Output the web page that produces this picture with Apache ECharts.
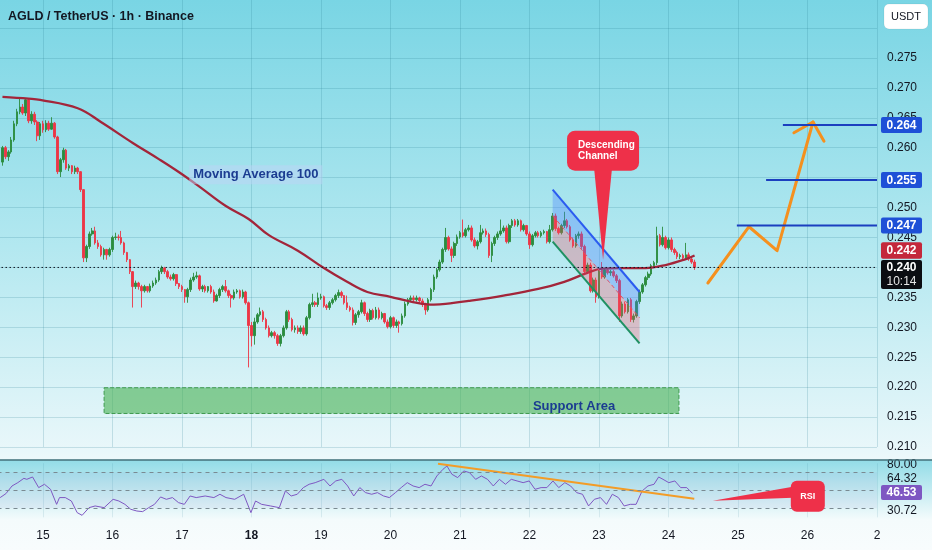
<!DOCTYPE html>
<html><head><meta charset="utf-8">
<script src="https://cdn.jsdelivr.net/npm/echarts@6/dist/echarts.min.js"></script>
<style>html,body{margin:0;padding:0;width:932px;height:550px;overflow:hidden}#c{width:932px;height:550px}</style>
</head><body><div id="c"></div>
<script>
// ---------- DATA ----------
const chartTitle = 'AGLD / TetherUS · 1h · Binance';
const unitLabel = 'USDT';
const dayLabels = ['14','15','16','17','18','19','20','21','22','23','24','25','26','2'];
const boldDays = ['18'];
const firstHour = 10;          // first candle: 14 Mar 10:00 (hours since 14 Mar 00:00)
const firstOpen = 0.2576;
const closes = [
0.2600,0.2585,0.2593,0.2613,0.2640,0.2660,0.2668,0.2658,0.2680,0.2645,
0.2656,0.2643,0.2620,0.2640,0.2630,0.2641,0.2631,0.2641,0.2618,0.2560,
0.2580,0.2596,0.2566,0.2570,0.2560,0.2566,0.2560,0.2530,0.2416,0.2435,
0.2456,0.2461,0.2441,0.2435,0.2421,0.2430,0.2421,0.2430,0.2450,0.2451,
0.2450,0.2441,0.2425,0.2413,0.2393,0.2368,0.2374,0.2368,0.2361,0.2368,
0.2361,0.2369,0.2374,0.2379,0.2393,0.2399,0.2393,0.2384,0.2381,0.2388,
0.2373,0.2368,0.2363,0.2351,0.2363,0.2379,0.2384,0.2386,0.2364,0.2368,
0.2361,0.2368,0.2359,0.2344,0.2353,0.2363,0.2368,0.2361,0.2353,0.2349,
0.2359,0.2361,0.2351,0.2359,0.2341,0.2303,0.2286,0.2309,0.2321,0.2326,
0.2313,0.2299,0.2286,0.2291,0.2286,0.2273,0.2286,0.2299,0.2326,0.2313,
0.2296,0.2299,0.2293,0.2299,0.2289,0.2316,0.2338,0.2341,0.2338,0.2349,
0.2351,0.2336,0.2333,0.2341,0.2346,0.2353,0.2358,0.2353,0.2341,0.2333,
0.2329,0.2308,0.2321,0.2326,0.2341,0.2323,0.2313,0.2328,0.2316,0.2329,
0.2316,0.2323,0.2309,0.2301,0.2316,0.2303,0.2309,0.2306,0.2319,0.2339,
0.2346,0.2349,0.2346,0.2349,0.2344,0.2338,0.2329,0.2346,0.2363,0.2384,
0.2396,0.2409,0.2430,0.2450,0.2431,0.2420,0.2440,0.2451,0.2458,0.2453,
0.2463,0.2466,0.2446,0.2436,0.2443,0.2458,0.2461,0.2455,0.2420,0.2440,
0.2450,0.2456,0.2461,0.2466,0.2443,0.2470,0.2478,0.2471,0.2478,0.2463,
0.2470,0.2456,0.2438,0.2453,0.2458,0.2453,0.2458,0.2460,0.2443,0.2463,
0.2486,0.2465,0.2458,0.2470,0.2478,0.2468,0.2446,0.2436,0.2453,0.2456,
0.2435,0.2393,0.2404,0.2361,0.2379,0.2351,0.2396,0.2384,0.2396,0.2391,
0.2393,0.2386,0.2378,0.2319,0.2339,0.2326,0.2346,0.2313,0.2319,0.2343,
0.2359,0.2371,0.2383,0.2389,0.2403,0.2408,0.2453,0.2438,0.2450,0.2433,
0.2446,0.2430,0.2425,0.2418,0.2420,0.2416,0.2421,0.2414,0.2409,0.2400];
const highs = [
0.2603,0.2603,0.2596,0.2618,0.2645,0.2665,0.2682,0.2673,0.2683,0.2682,
0.2661,0.2660,0.2646,0.2643,0.2645,0.2646,0.2645,0.2651,0.2643,0.2620,
0.2583,0.2600,0.2598,0.2573,0.2571,0.2570,0.2568,0.2561,0.2531,0.2438,
0.2460,0.2466,0.2468,0.2446,0.2438,0.2433,0.2431,0.2433,0.2453,0.2458,
0.2455,0.2461,0.2443,0.2426,0.2414,0.2394,0.2378,0.2376,0.2371,0.2371,
0.2369,0.2373,0.2378,0.2383,0.2396,0.2403,0.2401,0.2396,0.2388,0.2391,
0.2389,0.2374,0.2371,0.2364,0.2366,0.2383,0.2391,0.2393,0.2388,0.2371,
0.2371,0.2369,0.2371,0.2363,0.2356,0.2366,0.2371,0.2379,0.2363,0.2356,
0.2363,0.2364,0.2363,0.2363,0.2361,0.2343,0.2309,0.2316,0.2324,0.2333,
0.2329,0.2316,0.2303,0.2294,0.2294,0.2289,0.2289,0.2303,0.2329,0.2329,
0.2316,0.2303,0.2303,0.2303,0.2303,0.2319,0.2341,0.2356,0.2344,0.2358,
0.2356,0.2353,0.2339,0.2344,0.2349,0.2356,0.2363,0.2361,0.2354,0.2353,
0.2336,0.2333,0.2324,0.2329,0.2346,0.2343,0.2326,0.2331,0.2331,0.2334,
0.2333,0.2326,0.2324,0.2313,0.2319,0.2318,0.2313,0.2311,0.2323,0.2343,
0.2349,0.2353,0.2353,0.2353,0.2351,0.2348,0.2341,0.2349,0.2366,0.2388,
0.2399,0.2413,0.2433,0.2466,0.2453,0.2435,0.2443,0.2455,0.2461,0.2480,
0.2466,0.2471,0.2470,0.2450,0.2446,0.2471,0.2465,0.2465,0.2458,0.2443,
0.2453,0.2460,0.2480,0.2470,0.2470,0.2473,0.2481,0.2481,0.2481,0.2480,
0.2473,0.2471,0.2460,0.2456,0.2461,0.2461,0.2461,0.2463,0.2461,0.2471,
0.2491,0.2490,0.2468,0.2473,0.2493,0.2481,0.2471,0.2450,0.2456,0.2460,
0.2460,0.2438,0.2408,0.2408,0.2383,0.2383,0.2399,0.2409,0.2399,0.2399,
0.2396,0.2396,0.2389,0.2381,0.2343,0.2343,0.2349,0.2349,0.2323,0.2346,
0.2363,0.2374,0.2386,0.2393,0.2406,0.2411,0.2468,0.2456,0.2468,0.2453,
0.2450,0.2450,0.2433,0.2428,0.2423,0.2423,0.2441,0.2425,0.2418,0.2413];
const lows = [
0.2570,0.2581,0.2578,0.2590,0.2610,0.2636,0.2656,0.2655,0.2653,0.2641,
0.2640,0.2638,0.2611,0.2613,0.2625,0.2626,0.2628,0.2630,0.2615,0.2556,
0.2551,0.2575,0.2563,0.2561,0.2556,0.2556,0.2556,0.2526,0.2409,0.2409,
0.2431,0.2453,0.2438,0.2431,0.2418,0.2413,0.2413,0.2418,0.2426,0.2446,
0.2445,0.2438,0.2421,0.2409,0.2389,0.2333,0.2364,0.2363,0.2333,0.2358,
0.2358,0.2358,0.2366,0.2371,0.2376,0.2389,0.2389,0.2381,0.2378,0.2378,
0.2369,0.2364,0.2359,0.2341,0.2341,0.2359,0.2376,0.2381,0.2361,0.2359,
0.2358,0.2358,0.2356,0.2341,0.2343,0.2349,0.2359,0.2358,0.2349,0.2333,
0.2346,0.2356,0.2348,0.2348,0.2338,0.2233,0.2268,0.2271,0.2306,0.2318,
0.2309,0.2296,0.2283,0.2283,0.2281,0.2269,0.2268,0.2283,0.2296,0.2309,
0.2293,0.2291,0.2289,0.2289,0.2286,0.2286,0.2313,0.2334,0.2334,0.2334,
0.2346,0.2333,0.2329,0.2329,0.2338,0.2343,0.2349,0.2349,0.2338,0.2329,
0.2326,0.2303,0.2304,0.2316,0.2323,0.2319,0.2309,0.2309,0.2313,0.2313,
0.2313,0.2313,0.2306,0.2298,0.2298,0.2299,0.2299,0.2291,0.2303,0.2316,
0.2336,0.2343,0.2343,0.2343,0.2341,0.2334,0.2321,0.2326,0.2343,0.2359,
0.2381,0.2393,0.2406,0.2426,0.2428,0.2409,0.2416,0.2436,0.2448,0.2450,
0.2450,0.2460,0.2443,0.2433,0.2430,0.2440,0.2455,0.2451,0.2416,0.2409,
0.2436,0.2446,0.2453,0.2458,0.2440,0.2440,0.2466,0.2468,0.2468,0.2460,
0.2460,0.2453,0.2431,0.2435,0.2450,0.2450,0.2450,0.2455,0.2440,0.2440,
0.2460,0.2461,0.2455,0.2455,0.2466,0.2465,0.2443,0.2433,0.2433,0.2448,
0.2431,0.2389,0.2389,0.2358,0.2358,0.2341,0.2348,0.2381,0.2381,0.2388,
0.2386,0.2383,0.2374,0.2309,0.2316,0.2323,0.2323,0.2309,0.2308,0.2316,
0.2339,0.2356,0.2368,0.2379,0.2386,0.2399,0.2404,0.2435,0.2435,0.2430,
0.2430,0.2426,0.2421,0.2414,0.2414,0.2413,0.2413,0.2411,0.2406,0.2396];
// Moving Average 100
const maHours  = [10,19,23,36,44,55,64,71,78,87,95,102,112,121,129,136,144,151,159,163,171,183,195,204,212,217,223,232,239,246,249];
const maValues = [0.2685,0.2682,0.2680,0.2666,0.2643,0.2608,0.2581,0.2559,0.2535,0.2503,0.2481,0.2454,0.2428,0.2399,0.2376,0.2359,0.2351,0.2343,0.2338,0.2339,0.2344,0.2353,0.2364,0.2376,0.2391,0.2398,0.2399,0.2399,0.2404,0.2414,0.2420];
// RSI
const rsiHours = [9.2,11.2,13.3,15.3,17.4,18.4,20.4,22.5,24.5,26.6,28.7,29.7,31.7,33.8,35.8,37.5,39.9,42,45.1,48.2,50.2,52.3,54.3,56.4,58.4,60.5,62.5,64.6,66.6,68.7,70.8,72.8,74.8,76.9,80,83,85.1,87.2,90.2,93.3,95.8,97.4,99.5,102.6,105.6,107.7,109.7,111.8,113.9,115.9,118,121,123.1,125.1,127.2,129.2,131.3,133.4,135.4,137.5,139.5,141.6,143.6,145.7,147.7,149.8,151.8,153.9,155.9,158,160,162.1,163.5,165.2,167.2,169.3,171.3,173.4,175.4,177.5,179.5,181.6,183.7,185.7,187.7,189.8,191.9,193.9,196,198,200.1,202.1,204.2,206.2,208.3,210.3,212.4,214.4,216.5,218.6,220.6,222.7,224.7,226.8,228.8,230.9,232.9,235,236.6,238.1,240.1,242.2,244.2,246.3,248.3];
const rsiValues = [41.9,46.3,54.8,58.5,63.3,62.2,64.8,53.0,56.7,51.1,34.4,41.9,41.9,38.1,25.2,22.2,30.7,32.6,30.7,40.0,38.1,34.4,28.9,27.0,26.3,30.7,34.4,42.6,40.0,41.9,36.3,34.4,43.7,41.9,43.7,41.9,45.6,41.9,40.0,45.6,25.2,38.1,34.4,32.6,30.7,49.3,43.7,45.6,53.0,56.7,58.5,62.2,54.8,60.4,62.2,54.8,43.7,53.0,47.4,45.6,47.4,43.7,41.9,47.4,53.0,58.5,54.8,53.0,56.7,54.8,65.9,73.3,77.0,67.8,64.1,71.5,69.6,62.2,65.9,62.2,54.8,62.2,56.7,62.2,60.4,58.5,60.4,51.1,53.0,53.0,60.4,53.0,58.5,54.8,47.4,45.6,32.6,40.0,41.9,34.4,45.6,41.9,32.6,34.4,34.4,49.3,54.8,56.7,64.8,62.2,58.5,60.4,53.0,53.0,46.5];
const rsiBands = [70, 50, 30];
const rsiTagValues = [80, 64.32, 46.53, 30.72];
const rsiTrendHours = [160.4, 248.9];
const rsiTrendValues = [79.6, 40.7];
const rsiCallout = {hour: 255.3, value: 38.5, text: 'RSI'};
// Drawings on price chart
const levelPrices = [0.2638, 0.2546, 0.2470];
const levelStartHours = [279.5, 273.7, 263.6];
const countdown = '10:14';
const supportHours = [45.1, 243.6];
const supportPrices = [0.2199, 0.2156];
const channelHours = [200, 230];
const channelUpper = [0.2530, 0.2359];
const channelLower = [0.2443, 0.2273];
const arrowHours = [253.6, 267.8, 277.5, 289.9];
const arrowPrices = [0.2374, 0.2468, 0.2428, 0.2643];
const arrowHeadHours = [283.3, 289.9, 293.7];
const arrowHeadPrices = [0.2625, 0.2643, 0.2611];
const calloutAnchor = {hour: 217.4, price: 0.2413, lines: ['Descending', 'Channel']};
const noteTexts = ['Moving Average 100', 'Support Area'];
const noteHours = [97.5, 207.4];
const notePrices = [0.2555, 0.2167];

// ---------- CHART ----------
const FONT = '"Liberation Sans", Arial, sans-serif';
const xMax = (dayLabels.length - 1) * 24;
const gridColor = 'rgba(40,125,145,0.20)';
const candleData = closes.map((c, i) => [firstHour + i, i === 0 ? firstOpen : closes[i - 1], c, lows[i], highs[i]]);
const lastPrice = closes[closes.length - 1];
const lastHour = firstHour + closes.length - 1;

const chart = echarts.init(document.getElementById('c'), null, {renderer: 'canvas'});

const option = {
  animation: false,
  backgroundColor: {type: 'linear', x: 0, y: 0, x2: 0, y2: 1, colorStops: [
    {offset: 0, color: '#79d5e4'}, {offset: 0.45, color: '#b3e8f0'}, {offset: 0.82, color: '#e9f7fa'},
    {offset: 0.835, color: '#edf8fa'}, {offset: 0.837, color: '#93dce7'}, {offset: 0.945, color: '#f4fbfc'},
    {offset: 1, color: '#f8fcfd'}]},
  textStyle: {fontFamily: FONT},
  title: {text: chartTitle, left: 3, top: 5, textStyle: {fontSize: 12.5, fontWeight: 'bold', color: '#131722', fontFamily: FONT}},
  graphic: [
    {type: 'line', shape: {x1: 0, y1: 460, x2: 932, y2: 460}, style: {stroke: '#45707a', lineWidth: 1.5}, z: 50},
    {type: 'group', z: 50, children: [
      {type: 'rect', shape: {x: 884, y: 4, width: 44, height: 25, r: 5}, style: {fill: '#ffffff', stroke: 'rgba(0,0,0,0.06)'}},
      {type: 'text', style: {x: 906, y: 16.5, text: unitLabel, fill: '#131722', font: '11px ' + FONT, align: 'center', verticalAlign: 'middle'}}
    ]}
  ],
  grid: [
    {left: -26.5, right: 55, top: -1.9, height: 448.9, outerBoundsMode: 'none', containLabel: false},
    {left: -26.5, right: 55, top: 463.3, height: 54, outerBoundsMode: 'none', containLabel: false}
  ],
  xAxis: [
    {gridIndex: 0, type: 'value', min: 0, max: xMax, interval: 24,
     axisLine: {show: false}, axisTick: {show: false}, axisLabel: {show: false},
     splitLine: {show: true, lineStyle: {color: gridColor, width: 1}}},
    {gridIndex: 1, type: 'value', min: 0, max: xMax, interval: 24,
     axisLine: {show: false}, axisTick: {show: false},
     axisLabel: {show: true, margin: 12, color: '#131722', fontSize: 12, fontFamily: FONT, hideOverlap: false,
       formatter: v => { const t = dayLabels[Math.round(v / 24)]; return boldDays.includes(t) ? '{b|' + t + '}' : t; },
       rich: {b: {fontWeight: 'bold', fontSize: 12, color: '#131722', fontFamily: FONT}}},
     splitLine: {show: true, lineStyle: {color: 'rgba(40,125,145,0.12)', width: 1}}}
  ],
  yAxis: [
    {gridIndex: 0, type: 'value', position: 'right', min: 0.21, max: 0.285, interval: 0.005,
     axisLine: {show: true, lineStyle: {color: 'rgba(255,255,255,0.55)'}}, axisTick: {show: false},
     axisLabel: {margin: 10, color: '#131722', fontSize: 12, fontFamily: FONT,
       formatter: v => v > 0.2775 ? '' : v.toFixed(3)},
     splitLine: {show: true, lineStyle: {color: gridColor, width: 1}}},
    {gridIndex: 1, type: 'value', min: 20, max: 80, show: false}
  ],
  series: [
    {
      name: 'AGLD', type: 'candlestick', xAxisIndex: 0, yAxisIndex: 0, z: 3,
      data: candleData, barWidth: 2.1,
      itemStyle: {color: '#2b8c3e', color0: '#ec3646', borderColor: '#2b8c3e', borderColor0: '#ec3646', borderWidth: 0.9},
      markArea: {silent: true, z: 1,
        itemStyle: {color: 'rgba(72,176,82,0.6)', borderColor: '#3f9a4f', borderWidth: 1, borderType: 'dashed'},
        label: {show: false},
        data: [[{coord: [supportHours[0], supportPrices[0]]}, {coord: [supportHours[1], supportPrices[1]]}]]}
    },
    {
      name: 'MA100', type: 'line', xAxisIndex: 0, yAxisIndex: 0, z: 4, smooth: 0.4, symbol: 'none',
      data: maHours.map((h, i) => [h, maValues[i]]),
      lineStyle: {color: '#a3253a', width: 2.3}
    },
    {
      name: 'channel', type: 'custom', xAxisIndex: 0, yAxisIndex: 0, z: 5, silent: true,
      data: [[channelHours[0], channelUpper[0]]],
      renderItem: (params, api) => {
        const u0 = api.coord([channelHours[0], channelUpper[0]]);
        const u1 = api.coord([channelHours[1], channelUpper[1]]);
        const l0 = api.coord([channelHours[0], channelLower[0]]);
        const l1 = api.coord([channelHours[1], channelLower[1]]);
        const m0 = [(u0[0] + l0[0]) / 2, (u0[1] + l0[1]) / 2];
        const m1 = [(u1[0] + l1[0]) / 2, (u1[1] + l1[1]) / 2];
        return {type: 'group', children: [
          {type: 'polygon', shape: {points: [u0, u1, m1, m0]}, style: {fill: 'rgba(70,125,255,0.33)'}},
          {type: 'polygon', shape: {points: [m0, m1, l1, l0]}, style: {fill: 'rgba(250,80,100,0.30)'}},
          {type: 'line', shape: {x1: m0[0], y1: m0[1], x2: m1[0], y2: m1[1]}, style: {stroke: '#e0536a', lineWidth: 1, lineDash: [4, 3]}},
          {type: 'line', shape: {x1: u0[0], y1: u0[1], x2: u1[0], y2: u1[1]}, style: {stroke: '#2b5cf0', lineWidth: 2}},
          {type: 'line', shape: {x1: l0[0], y1: l0[1], x2: l1[0], y2: l1[1]}, style: {stroke: '#1f9163', lineWidth: 2}}
        ]};
      }
    },
    {
      name: 'arrow', type: 'line', xAxisIndex: 0, yAxisIndex: 0, z: 6, symbol: 'none',
      data: arrowHours.map((h, i) => [h, arrowPrices[i]]),
      lineStyle: {color: '#f5901e', width: 3, cap: 'round', join: 'round'}
    },
    {
      name: 'arrowHead', type: 'line', xAxisIndex: 0, yAxisIndex: 0, z: 6, symbol: 'none',
      data: arrowHeadHours.map((h, i) => [h, arrowHeadPrices[i]]),
      lineStyle: {color: '#f5901e', width: 3, cap: 'round', join: 'round'}
    },
    {
      name: 'notes', type: 'custom', xAxisIndex: 0, yAxisIndex: 0, z: 7, silent: true,
      data: noteHours.map((h, i) => [h, notePrices[i], i]),
      renderItem: (params, api) => {
        const p = api.coord([api.value(0), api.value(1)]);
        const i = api.value(2);
        const st = {text: noteTexts[i], fill: '#1b3c91', font: 'bold 13px ' + FONT, align: 'center', verticalAlign: 'middle'};
        if (i === 0) { st.backgroundColor = 'rgba(190,212,246,0.5)'; st.padding = [3, 4, 3, 4]; }
        return {type: 'text', x: p[0], y: p[1], style: st};
      }
    },
    {
      name: 'levels', type: 'custom', xAxisIndex: 0, yAxisIndex: 0, z: 10, silent: true, clip: false,
      data: levelStartHours.map((h, i) => [h, levelPrices[i]]),
      renderItem: (params, api) => {
        const s = api.coord([api.value(0), api.value(1)]);
        const e = api.coord([xMax, api.value(1)]);
        const y = e[1];
        return {type: 'group', children: [
          {type: 'line', shape: {x1: s[0], y1: y, x2: e[0], y2: y}, style: {stroke: '#1b3fbf', lineWidth: 2}},
          {type: 'rect', shape: {x: e[0] + 4, y: y - 8, width: 41, height: 16, r: 2}, style: {fill: '#1e50d7'}},
          {type: 'text', style: {x: e[0] + 24.5, y: y + 0.5, text: api.value(1).toFixed(3), fill: '#ffffff', font: 'bold 12px ' + FONT, align: 'center', verticalAlign: 'middle'}}
        ]};
      }
    },
    {
      name: 'maTag', type: 'custom', xAxisIndex: 0, yAxisIndex: 0, z: 10, silent: true, clip: false,
      data: [[maHours[maHours.length - 1], maValues[maValues.length - 1]]],
      renderItem: (params, api) => {
        const e = api.coord([xMax, api.value(1)]);
        const y = e[1] - 5;
        return {type: 'group', children: [
          {type: 'rect', shape: {x: e[0] + 4, y: y - 8.3, width: 41, height: 16.6, r: 2}, style: {fill: '#c4283b'}},
          {type: 'text', style: {x: e[0] + 24.5, y: y + 0.5, text: api.value(1).toFixed(3), fill: '#ffffff', font: 'bold 12px ' + FONT, align: 'center', verticalAlign: 'middle'}}
        ]};
      }
    },
    {
      name: 'lastPrice', type: 'custom', xAxisIndex: 0, yAxisIndex: 0, z: 11, silent: true, clip: false,
      data: [[lastHour, lastPrice]],
      renderItem: (params, api) => {
        const s = api.coord([0, api.value(1)]);
        const e = api.coord([xMax, api.value(1)]);
        const y = e[1];
        return {type: 'group', children: [
          {type: 'line', shape: {x1: s[0], y1: y, x2: e[0], y2: y}, style: {stroke: '#131722', lineWidth: 1, lineDash: [1.5, 2.5]}},
          {type: 'rect', shape: {x: e[0] + 4, y: y - 7.5, width: 41, height: 29, r: 2}, style: {fill: '#0b0d12'}},
          {type: 'text', style: {x: e[0] + 24.5, y: y + 0.5, text: api.value(1).toFixed(3), fill: '#ffffff', font: 'bold 12px ' + FONT, align: 'center', verticalAlign: 'middle'}},
          {type: 'text', style: {x: e[0] + 24.5, y: y + 14, text: countdown, fill: '#e6e6e6', font: '12px ' + FONT, align: 'center', verticalAlign: 'middle'}}
        ]};
      }
    },
    {
      name: 'callout', type: 'custom', xAxisIndex: 0, yAxisIndex: 0, z: 12, silent: true, clip: false,
      data: [[calloutAnchor.hour, calloutAnchor.price]],
      renderItem: (params, api) => {
        const a = api.coord([api.value(0), api.value(1)]);
        const ax = a[0], ay = a[1];
        const L = ax - 36, T = ay - 129, B = ay - 89;
        return {type: 'group', children: [
          {type: 'polygon', shape: {points: [[ax - 9, B - 3], [ax + 9, B - 3], [ax, ay]]}, style: {fill: '#ee3049'}},
          {type: 'rect', shape: {x: L, y: T, width: 72, height: 40, r: 8}, style: {fill: '#ee3049'}},
          {type: 'text', style: {x: L + 11, y: T + 15, text: calloutAnchor.lines[0], fill: '#ffffff', font: 'bold 10px ' + FONT, verticalAlign: 'middle'}},
          {type: 'text', style: {x: L + 11, y: T + 26, text: calloutAnchor.lines[1], fill: '#ffffff', font: 'bold 10px ' + FONT, verticalAlign: 'middle'}}
        ]};
      }
    },
    {
      name: 'RSI', type: 'line', xAxisIndex: 1, yAxisIndex: 1, z: 3, symbol: 'none',
      data: rsiHours.map((h, i) => [h, rsiValues[i]]),
      lineStyle: {color: '#7e57c2', width: 1},
      markLine: {silent: true, symbol: ['none', 'none'], label: {show: false},
        lineStyle: {color: '#7a8a92', width: 1, type: [4, 4]},
        data: rsiBands.map(v => ({yAxis: v}))},
      markArea: {silent: true, itemStyle: {color: 'rgba(126,87,194,0.06)'},
        data: [[{yAxis: rsiBands[0]}, {yAxis: rsiBands[2]}]]}
    },
    {
      name: 'rsiTrend', type: 'line', xAxisIndex: 1, yAxisIndex: 1, z: 4, symbol: 'none',
      data: rsiTrendHours.map((h, i) => [h, rsiTrendValues[i]]),
      lineStyle: {color: '#f39c27', width: 2}
    },
    {
      name: 'rsiTags', type: 'custom', xAxisIndex: 1, yAxisIndex: 1, z: 10, silent: true, clip: false,
      data: rsiTagValues.map((v, i) => [xMax, v, i]),
      renderItem: (params, api) => {
        const e = api.coord([xMax, api.value(1)]);
        const i = api.value(2);
        const shift = [1.7, 1.6, -0.8, 3.3][i];
        const y = e[1] + shift;
        const txt = api.value(1).toFixed(2);
        if (i === 2) {
          return {type: 'group', children: [
            {type: 'rect', shape: {x: e[0] + 4, y: y - 7.5, width: 41, height: 15, r: 2}, style: {fill: '#7e57c2'}},
            {type: 'text', style: {x: e[0] + 24.5, y: y + 0.5, text: txt, fill: '#ffffff', font: 'bold 12px ' + FONT, align: 'center', verticalAlign: 'middle'}}
          ]};
        }
        return {type: 'text', style: {x: e[0] + 10, y: y, text: txt, fill: '#131722', font: '12px ' + FONT, verticalAlign: 'middle'}};
      }
    },
    {
      name: 'rsiCallout', type: 'custom', xAxisIndex: 1, yAxisIndex: 1, z: 12, silent: true, clip: false,
      data: [[rsiCallout.hour, rsiCallout.value]],
      renderItem: (params, api) => {
        const a = api.coord([api.value(0), api.value(1)]);
        const ax = a[0], ay = a[1];
        return {type: 'group', children: [
          {type: 'polygon', shape: {points: [[ax, ay], [ax + 80, ay - 14], [ax + 80, ay - 3]]}, style: {fill: '#ee3049'}},
          {type: 'rect', shape: {x: ax + 78, y: ay - 20, width: 34, height: 31, r: 6}, style: {fill: '#ee3049'}},
          {type: 'text', style: {x: ax + 95, y: ay - 4.5, text: rsiCallout.text, fill: '#ffffff', font: 'bold 9px ' + FONT, align: 'center', verticalAlign: 'middle'}}
        ]};
      }
    }
  ]
};
chart.setOption(option);
</script>
</body></html>
